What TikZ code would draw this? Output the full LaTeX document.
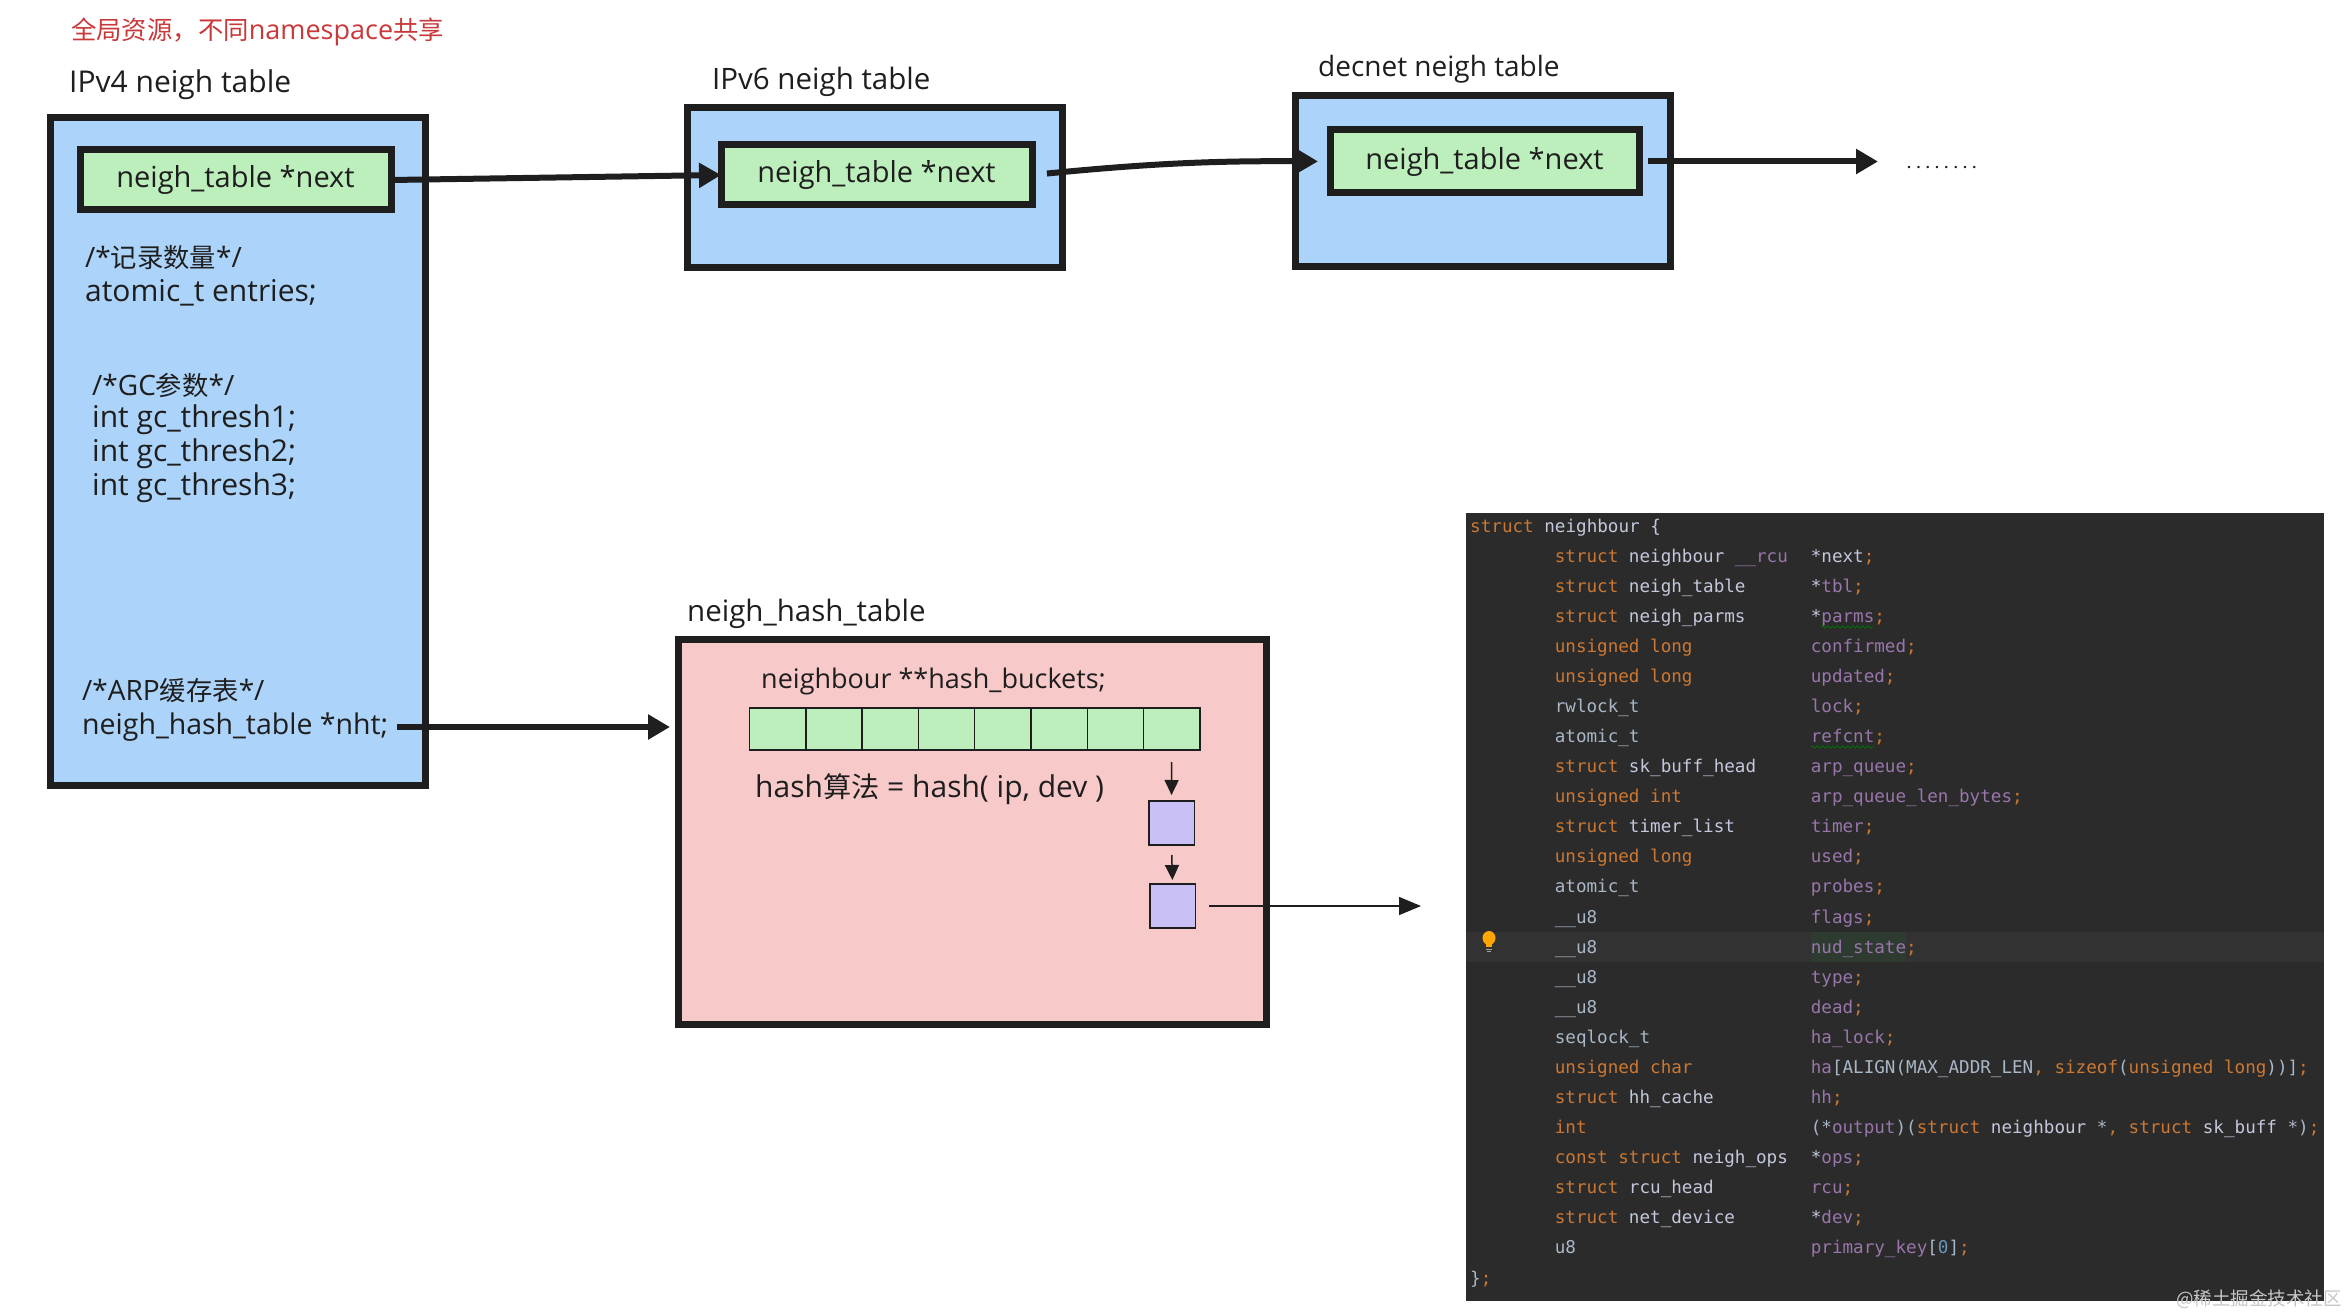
\documentclass[tikz,border=0pt]{standalone}
\usepackage{fontspec}
\setmainfont{Open Sans}
\setmonofont{DejaVu Sans Mono}
\newfontfamily\cjk[Scale=0.94]{Noto Sans CJK SC}
\usetikzlibrary{arrows.meta, decorations.pathmorphing}
\definecolor{tablefill}{HTML}{ACD3F9}
\definecolor{nextfill}{HTML}{BDEFBD}
\definecolor{hashfill}{HTML}{F7C9C9}
\definecolor{chainfill}{HTML}{C9C1F6}
\definecolor{inkline}{HTML}{1E1E1E}
\definecolor{titlered}{HTML}{C9383A}
\definecolor{panelbg}{HTML}{2B2B2B}
\definecolor{panelhl}{HTML}{323232}
\definecolor{statehl}{HTML}{2E3B30}
\definecolor{kwcolor}{HTML}{CC7832}
\definecolor{tycolor}{HTML}{C3C8DC}
\definecolor{plaincolor}{HTML}{A9B7C6}
\definecolor{fdcolor}{HTML}{9876AA}
\definecolor{numcolor}{HTML}{6897BB}
\newcommand{\zh}[1]{{\cjk #1}}
\newcommand{\kw}[1]{\textcolor{kwcolor}{#1}}
\newcommand{\ty}[1]{\textcolor{tycolor}{#1}}
\newcommand{\pl}[1]{\textcolor{plaincolor}{#1}}
\newcommand{\fd}[1]{\textcolor{fdcolor}{#1}}
\tikzset{
  handsize/.style={font=\fontsize{#1}{32}\selectfont},
  handtext/.style={anchor=west, inner sep=0pt, text=inkline, handsize=28},
  tablebox/.style={draw=inkline, line width=7pt, fill=tablefill, inner sep=0pt, outer sep=0pt},
  nextbox/.style={tablebox, fill=nextfill, text=inkline, handsize=29},
  hashbox/.style={tablebox, fill=hashfill},
  bucketcell/.style={draw=inkline, line width=1.5pt, fill=nextfill, inner sep=0pt, outer sep=0pt, minimum width=56.3pt, minimum height=42pt},
  chainbox/.style={draw=inkline, line width=1.5pt, fill=chainfill, inner sep=0pt, outer sep=0pt, minimum width=45.5pt, minimum height=44pt},
  thickarrow/.style={-{Triangle[length=22pt,width=24pt]}, draw=inkline, line width=6pt},
  thinarrow/.style={-{Triangle[length=15pt,width=14pt]}, draw=inkline, line width=1.5pt},
  codeline/.style={anchor=west, inner sep=0pt, text height=13pt, text depth=4pt, font=\ttfamily\fontsize{17.6}{20}\selectfont},
  squiggle/.style={draw=green!45!black, line width=0.8pt, decorate, decoration={snake, amplitude=1.2pt, segment length=5pt}}
}
\begin{document}
\begin{tikzpicture}[x=1pt, y=-1pt]
  \useasboundingbox (0,0) rectangle (2348,1316);

  \node[handtext, text=titlered, handsize=27] (title) at (71,32) {\zh{全局资源，不同}namespace\zh{共享}};
  \node[handtext, handsize=30] (labelfour) at (69,85) {IPv4 neigh table};
  \node[handtext, handsize=29.5] (labelsix) at (712,82) {IPv6 neigh table};
  \node[handtext] (labeldec) at (1318,69) {decnet neigh table};
  \node[handtext, handsize=29.5] (labelhash) at (687,614) {neigh\_hash\_table};

  \node[tablebox, minimum width=375pt, minimum height=667pt] (tablefour) at (237.5,451.5) {};
  \node[tablebox, minimum width=375pt, minimum height=159pt] (tablesix) at (875,187.5) {};
  \node[tablebox, minimum width=375pt, minimum height=170pt] (tabledec) at (1483,181) {};
  \node[nextbox, minimum width=311pt, minimum height=60pt] (nextfour) at (235.5,180) {neigh\_table *next};
  \node[nextbox, minimum width=311pt, minimum height=60pt] (nextsix) at (876.5,175) {neigh\_table *next};
  \node[nextbox, minimum width=309pt, minimum height=63pt] (nextdec) at (1484.5,161.5) {neigh\_table *next};

  \node[handtext] (countcmt) at (85,258) {/*\zh{记录数量}*/};
  \node[handtext, handsize=30] (entries) at (85,293) {atomic\_t entries;};
  \node[handtext] (gccmt) at (92,385) {/*GC\zh{参数}*/};
  \node[handtext, handsize=30] (threshone) at (92,420) {int gc\_thresh1;};
  \node[handtext, handsize=30] (threshtwo) at (92,454) {int gc\_thresh2;};
  \node[handtext, handsize=30] (threshthree) at (92,488) {int gc\_thresh3;};
  \node[handtext] (arpcmt) at (82,691) {/*ARP\zh{缓存表}*/};
  \node[handtext, handsize=28.5] (nht) at (82,727) {neigh\_hash\_table *nht;};

  \node[hashbox, minimum width=588pt, minimum height=385pt] (hashtable) at (972,831.5) {};
  \node[handtext, handsize=27] (buckets) at (761,681) {neighbour **hash\_buckets;};
  \node[handtext, handsize=30] (hashalgo) at (755,789) {hash\zh{算法} = hash( ip, dev )};
  \foreach \i in {0,...,7}
    \node[bucketcell] (bucket\i) at (777.65+56.3*\i,729) {};
  \node[chainbox] (chainone) at (1171.5,823) {};
  \node[chainbox] (chaintwo) at (1172.5,906) {};

  \node[inner sep=0pt, anchor=west, text=inkline, font=\bfseries\fontsize{14}{16}\selectfont\addfontfeature{LetterSpace=38}] (dots) at (1907,168) {........};

  \draw[thickarrow] (nextfour.east) -- (nextsix.west);
  \draw[thickarrow, shorten <=15pt, shorten >=12pt] (nextsix.east) to[bend left=3] (nextdec.west);
  \draw[thickarrow, shorten <=9pt, shorten >=29pt] (nextdec.east) -- (nextdec.east -| dots.west);
  \draw[thickarrow, shorten <=8pt, shorten >=8pt] (nht.east) -- (nht.east -| hashtable.west);
  \draw[thinarrow, shorten <=12pt, shorten >=6pt] (bucket7.south) -- (chainone.north);
  \draw[thinarrow, shorten <=10pt, shorten >=4pt] (chainone.south) -- (chaintwo.north);

  \node[fill=panelbg, inner sep=0pt, outer sep=0pt, minimum width=858pt, minimum height=788pt] (codepanel) at (1895,907) {};
  \fill[panelhl] (1466,932) rectangle (2324,962);
  \fill[statehl] (1810.6,932) rectangle (1906,962);
  \draw[thinarrow, -{Triangle[length=22pt,width=18pt]}, shorten <=14pt, shorten >=45pt] (chaintwo.east) -- (chaintwo.east -| codepanel.west);

  \node[codeline] (codehead) at (1470,527.5) {\kw{struct} \ty{neighbour \{}};
  \foreach \row/\ctype/\cfield in {
    1/{\kw{struct} \ty{neighbour} \fd{\_\_rcu}}/{\ty{*next}\kw{;}},
    2/{\kw{struct} \ty{neigh\_table}}/{\ty{*}\fd{tbl}\kw{;}},
    3/{\kw{struct} \ty{neigh\_parms}}/{\ty{*}\fd{parms}\kw{;}},
    4/{\kw{unsigned long}}/{\fd{confirmed}\kw{;}},
    5/{\kw{unsigned long}}/{\fd{updated}\kw{;}},
    6/{\pl{rwlock\_t}}/{\fd{lock}\kw{;}},
    7/{\pl{atomic\_t}}/{\fd{refcnt}\kw{;}},
    8/{\kw{struct} \ty{sk\_buff\_head}}/{\fd{arp\_queue}\kw{;}},
    9/{\kw{unsigned int}}/{\fd{arp\_queue\_len\_bytes}\kw{;}},
    10/{\kw{struct} \ty{timer\_list}}/{\fd{timer}\kw{;}},
    11/{\kw{unsigned long}}/{\fd{used}\kw{;}},
    12/{\pl{atomic\_t}}/{\fd{probes}\kw{;}},
    13/{\pl{\_\_u8}}/{\fd{flags}\kw{;}},
    14/{\pl{\_\_u8}}/{\fd{nud\_state}\kw{;}},
    15/{\pl{\_\_u8}}/{\fd{type}\kw{;}},
    16/{\pl{\_\_u8}}/{\fd{dead}\kw{;}},
    17/{\pl{seqlock\_t}}/{\fd{ha\_lock}\kw{;}},
    18/{\kw{unsigned char}}/{\fd{ha}\pl{[ALIGN(MAX\_ADDR\_LEN}\kw{,} \kw{sizeof}\pl{(}\kw{unsigned long}\pl{))]}\kw{;}},
    19/{\kw{struct} \ty{hh\_cache}}/{\fd{hh}\kw{;}},
    20/{\kw{int}}/{\pl{(*}\fd{output}\pl{)(}\kw{struct} \ty{neighbour} \pl{*}\kw{,} \kw{struct} \ty{sk\_buff} \pl{*)}\kw{;}},
    21/{\kw{const struct} \ty{neigh\_ops}}/{\ty{*}\fd{ops}\kw{;}},
    22/{\kw{struct} \ty{rcu\_head}}/{\fd{rcu}\kw{;}},
    23/{\kw{struct} \ty{net\_device}}/{\ty{*}\fd{dev}\kw{;}},
    24/{\pl{u8}}/{\fd{primary\_key}\pl{[}\textcolor{numcolor}{0}\pl{]}\kw{;}}}
  {
    \node[codeline] (ctype\row) at (1554.6,527.5+30.08*\row) {\ctype};
    \node[codeline] (cfield\row) at (1810.6,527.5+30.08*\row) {\cfield};
  }
  \node[codeline] (codetail) at (1470,1279.5) {\pl{\}}\kw{;}};

  \draw[squiggle] (1821,627) -- (1873,627);
  \draw[squiggle] (1811,747) -- (1874,747);
  \fill[orange!70!yellow] (1489,938) ellipse (6.5pt and 7pt);
  \fill[orange!70!yellow] (1486,944) rectangle (1492,947);
  \draw[gray!70, line width=1pt] (1486,949) -- (1492,949) (1487,951.5) -- (1491,951.5);

  \node[anchor=east, inner sep=0pt, text=gray!45, font=\cjk\fontsize{19.7}{22}\selectfont] (watermark) at (2342,1299) {@稀土掘金技术社区};
\end{tikzpicture}
\end{document}
